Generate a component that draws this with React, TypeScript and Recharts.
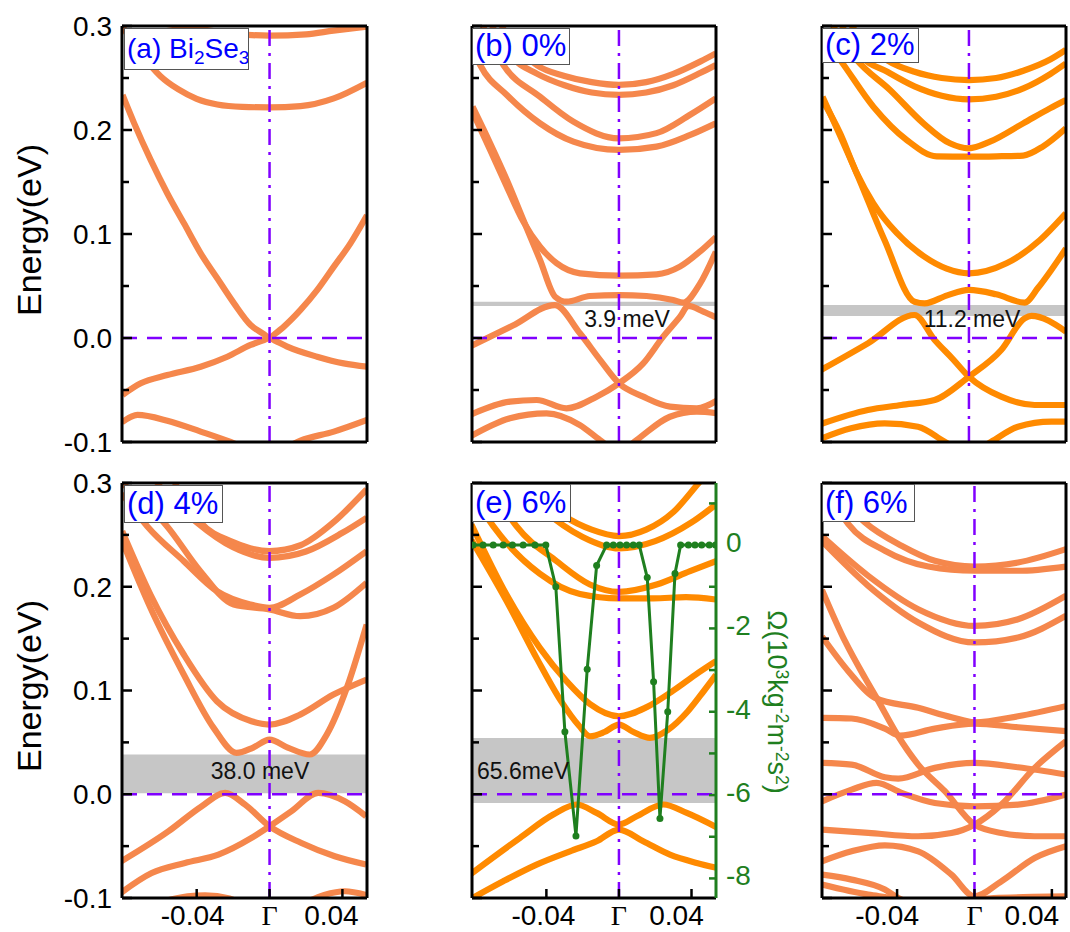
import React from "react";
import { LineChart, Line, XAxis, YAxis, ReferenceLine, ReferenceArea } from "recharts";

const FONT = "Arial, 'Liberation Sans', sans-serif";
const SERIF = "'Times New Roman', 'Liberation Serif', serif";
const PURPLE = "#8000ff";
const GREEN = "#1f7f1f";
const SALMON = "#f5874c";
const ORANGE = "#ff8a00";

const energyTicks = [-0.1, -0.05, 0, 0.05, 0.1, 0.15, 0.2, 0.25, 0.3];
const kTicks = [-0.04, 0, 0.04];
const omegaTicks = [-8, -7, -6, -5, -4, -3, -2, -1, 0, 1];
const kMain: [number, number] = [-0.081, 0.0535];
const kWide: [number, number] = [-0.0788, 0.0473];

// (a) Bi2Se3  [k, E]
const aBand1 = [[-0.081, 0.31], [-0.06, 0.303], [-0.045, 0.299], [-0.03, 0.295], [-0.012, 0.2915], [0, 0.2907], [0.02, 0.292], [0.035, 0.2955], [0.0535, 0.2994]];
const aBand2 = [[-0.081, 0.3], [-0.07, 0.272], [-0.06, 0.252], [-0.05, 0.239], [-0.04, 0.23], [-0.0287, 0.2245], [-0.015, 0.2222], [0, 0.2218], [0.017, 0.223], [0.0353, 0.2304], [0.0535, 0.2455]];
const aCone1 = [[-0.0807, 0.2337], [-0.0743, 0.2064], [-0.0652, 0.171], [-0.0561, 0.139], [-0.0469, 0.11], [-0.0378, 0.0814], [-0.0287, 0.0574], [-0.0195, 0.0333], [-0.0104, 0.0125], [-0.003, 0.0036], [0, 0], [0.003, 0.004], [0.0079, 0.011], [0.017, 0.027], [0.0261, 0.046], [0.0353, 0.0686], [0.0444, 0.091], [0.0535, 0.118]];
const aCone2 = [[-0.0807, -0.0548], [-0.0707, -0.0436], [-0.0561, -0.0356], [-0.0378, -0.0276], [-0.0232, -0.018], [-0.0104, -0.0067], [-0.003, -0.0019], [0, 0], [0.003, -0.0025], [0.0097, -0.0083], [0.0261, -0.018], [0.0407, -0.0244], [0.0535, -0.0276]];
const aBand5 = [[-0.081, -0.081], [-0.0725, -0.074], [-0.0561, -0.0795], [-0.0378, -0.09], [-0.0214, -0.1], [-0.0104, -0.1077], [0, -0.11], [0.0079, -0.106], [0.017, -0.0987], [0.0353, -0.09], [0.0535, -0.0788]];

// (b) 0%
const bTop1 = [[-0.065, 0.3], [-0.045, 0.262], [-0.03, 0.252], [-0.015, 0.246], [0, 0.2433], [0.015, 0.246], [0.03, 0.254], [0.045, 0.266], [0.0534, 0.2737]];
const bTop2 = [[-0.07, 0.3], [-0.06, 0.272], [-0.045, 0.254], [-0.03, 0.243], [-0.015, 0.236], [0, 0.2337], [0.015, 0.236], [0.03, 0.243], [0.045, 0.255], [0.0534, 0.2625]];
const bMid1 = [[-0.075, 0.3], [-0.0637, 0.2625], [-0.0435, 0.232], [-0.0251, 0.208], [0, 0.192], [0.0207, 0.197], [0.039, 0.2144], [0.0534, 0.2304]];
const bMid2 = [[-0.081, 0.28], [-0.0765, 0.2625], [-0.0618, 0.2337], [-0.0435, 0.2064], [-0.0251, 0.1888], [0, 0.1808], [0.0207, 0.184], [0.039, 0.195], [0.0534, 0.2064]];
const bC2 = [[-0.0807, 0.2176], [-0.071, 0.1808], [-0.0618, 0.1455], [-0.0527, 0.1119], [-0.0435, 0.0878], [-0.0343, 0.0718], [-0.0215, 0.0622], [0, 0.06], [0.0207, 0.0612], [0.0336, 0.0686], [0.0446, 0.083], [0.0534, 0.097]];
const bC1 = [[-0.0807, 0.2224], [-0.071, 0.1872], [-0.0618, 0.1519], [-0.0527, 0.1135], [-0.0435, 0.075], [-0.0352, 0.0397], [-0.0289, 0.0349], [-0.016, 0.0404], [0, 0.0413], [0.0152, 0.0404], [0.0299, 0.0365], [0.0355, 0.034], [0.0446, 0.052], [0.0534, 0.083]];
const bV1 = [[-0.0822, -0.0083], [-0.0587, 0.0117], [-0.0353, 0.0317], [-0.0215, 0.0045], [-0.01, -0.022], [0, -0.0436], [0.0134, -0.0564], [0.0281, -0.066], [0.0429, -0.0676], [0.0546, -0.0596]];
const bV2 = [[-0.0822, -0.074], [-0.0601, -0.0612], [-0.0454, -0.0596], [-0.0289, -0.0676], [-0.0123, -0.0564], [0, -0.0436], [0.0134, -0.0244], [0.0244, 0.0013], [0.0337, 0.0205], [0.0382, 0.0308], [0.0465, 0.0253], [0.0546, 0.0189]];
const bV3 = [[-0.0822, -0.0949], [-0.0601, -0.0772], [-0.0399, -0.0724], [-0.0215, -0.0837], [-0.0105, -0.098], [0, -0.11], [0.0098, -0.098], [0.0281, -0.0757], [0.0429, -0.0708], [0.0546, -0.0724]];

// (c) 2%
const cTop1 = [[-0.065, 0.3], [-0.045, 0.267], [-0.03, 0.256], [-0.015, 0.25], [0, 0.248], [0.015, 0.25], [0.03, 0.257], [0.045, 0.268], [0.0534, 0.277]];
const cTop2 = [[-0.07, 0.3], [-0.06, 0.272], [-0.045, 0.256], [-0.03, 0.242], [-0.015, 0.233], [0, 0.2295], [0.015, 0.232], [0.03, 0.24], [0.045, 0.254], [0.0534, 0.264]];
const cMid1 = [[-0.075, 0.3], [-0.0618, 0.2673], [-0.0435, 0.2385], [-0.0251, 0.2064], [-0.0105, 0.1872], [0, 0.1824], [0.0116, 0.1888], [0.0299, 0.2064], [0.0446, 0.2208], [0.0534, 0.2288]];
const cMid2 = [[-0.081, 0.29], [-0.071, 0.2673], [-0.0527, 0.2224], [-0.0343, 0.1904], [-0.0178, 0.1747], [0, 0.1744], [0.0152, 0.1747], [0.0299, 0.1754], [0.0409, 0.1843], [0.0534, 0.2016]];
const cC2 = [[-0.0807, 0.2288], [-0.071, 0.1968], [-0.0618, 0.1583], [-0.0527, 0.1295], [-0.0398, 0.101], [-0.0251, 0.0788], [-0.0123, 0.0667], [0, 0.0622], [0.0207, 0.0718], [0.039, 0.094], [0.0534, 0.1199]];
const cC1 = [[-0.0807, 0.232], [-0.0618, 0.158], [-0.0465, 0.094], [-0.03, 0.0349], [-0.0244, 0.0333], [-0.012, 0.041], [0, 0.0462], [0.015, 0.042], [0.0307, 0.034], [0.038, 0.048], [0.0454, 0.0654], [0.0535, 0.086]];
const cV1 = [[-0.0833, -0.0324], [-0.0557, -0.0051], [-0.03, 0.0221], [-0.0189, -0.0019], [-0.009, -0.02], [0, -0.0372], [0.0178, -0.0564], [0.0362, -0.0644], [0.0535, -0.0644]];
const cV2 = [[-0.0833, -0.0837], [-0.0557, -0.0692], [-0.0373, -0.0644], [-0.0189, -0.0596], [0, -0.0372], [0.0178, -0.0115], [0.0307, 0.0189], [0.0344, 0.0212], [0.0535, 0.0061]];
const cV3 = [[-0.0833, -0.098], [-0.065, -0.0868], [-0.0465, -0.082], [-0.0281, -0.0853], [-0.0134, -0.0997], [0, -0.112], [0.0123, -0.0997], [0.027, -0.0853], [0.0454, -0.0805], [0.0535, -0.0805]];

// (d) 4%
const dTop1 = [[-0.052, 0.3], [-0.038, 0.262], [-0.02, 0.243], [0, 0.2343], [0.017, 0.24], [0.035, 0.262], [0.0533, 0.2938]];
const dTop2 = [[-0.062, 0.3], [-0.04, 0.262], [-0.02, 0.238], [0, 0.2279], [0.02, 0.234], [0.04, 0.252], [0.0533, 0.2665]];
const dMid1 = [[-0.081, 0.29], [-0.0672, 0.2584], [-0.0471, 0.2247], [-0.0289, 0.1958], [-0.0106, 0.1829], [0, 0.1797], [0.0168, 0.1925], [0.0351, 0.2118], [0.0533, 0.2343]];
const dMid2 = [[-0.081, 0.3], [-0.0563, 0.2584], [-0.038, 0.215], [-0.0197, 0.1829], [0, 0.1781], [0.0168, 0.1716], [0.0351, 0.1797], [0.0533, 0.2038]];
const dC2 = [[-0.0809, 0.2536], [-0.0654, 0.1925], [-0.0471, 0.1347], [-0.0289, 0.0897], [-0.0099, 0.0704], [0, 0.0672], [0.0168, 0.0768], [0.0351, 0.0961], [0.0533, 0.1106]];
const dC1 = [[-0.0809, 0.244], [-0.0654, 0.1797], [-0.0471, 0.1154], [-0.0307, 0.064], [-0.0181, 0.0398], [-0.009, 0.045], [0, 0.0527], [0.01, 0.045], [0.0221, 0.0383], [0.0314, 0.0575], [0.0424, 0.1025], [0.0533, 0.1636]];
const dV1 = [[-0.0829, -0.0662], [-0.0555, -0.0357], [-0.0373, -0.0116], [-0.0244, 0.0013], [-0.0135, -0.0099], [0, -0.0309], [0.0175, -0.047], [0.0358, -0.0598], [0.053, -0.0678]];
const dV2 = [[-0.0829, -0.0967], [-0.0647, -0.0759], [-0.0464, -0.0662], [-0.0281, -0.0582], [-0.0099, -0.0421], [0, -0.0309], [0.012, -0.0164], [0.0267, 0.0013], [0.0413, -0.0068], [0.053, -0.0212]];
const dV3 = [[-0.06, -0.104], [-0.045, -0.0985], [-0.0354, -0.0974], [-0.022, -0.1005], [-0.01, -0.11], [0, -0.115], [0.015, -0.108], [0.03, -0.097], [0.0413, -0.0935], [0.053, -0.097]];

// (e) 6%
const eTop1 = [[-0.045, 0.29], [-0.03, 0.268], [-0.015, 0.255], [0, 0.2488], [0.015, 0.255], [0.03, 0.272], [0.044, 0.3], [0.054, 0.32]];
const eTop2 = [[-0.055, 0.3], [-0.04, 0.272], [-0.02, 0.248], [0, 0.2369], [0.02, 0.244], [0.04, 0.262], [0.0535, 0.2793]];
const eMid1 = [[-0.07, 0.295], [-0.0565, 0.2584], [-0.0344, 0.2247], [-0.016, 0.2022], [0, 0.1951], [0.0208, 0.2022], [0.0392, 0.215], [0.0535, 0.2247]];
const eMid2 = [[-0.081, 0.29], [-0.0693, 0.2584], [-0.0436, 0.2125], [-0.0215, 0.193], [0, 0.1888], [0.019, 0.1888], [0.037, 0.19], [0.0535, 0.1877]];
const eC2 = [[-0.0813, 0.26], [-0.062, 0.1925], [-0.0436, 0.1411], [-0.0289, 0.109], [-0.016, 0.087], [0, 0.0752], [0.0153, 0.084], [0.03, 0.1], [0.042, 0.115], [0.0535, 0.1283]];
const eC1 = [[-0.0813, 0.245], [-0.06, 0.18], [-0.045, 0.13], [-0.032, 0.09], [-0.022, 0.066], [-0.016, 0.0559], [-0.008, 0.06], [0, 0.0672], [0.008, 0.06], [0.0171, 0.0543], [0.027, 0.062], [0.038, 0.08], [0.047, 0.1], [0.0535, 0.115]];
const eV1 = [[-0.0822, -0.0775], [-0.0546, -0.0421], [-0.0362, -0.0196], [-0.0233, -0.0099], [-0.0123, -0.018], [0, -0.0292], [0.0098, -0.0212], [0.0244, -0.0099], [0.0374, -0.018], [0.0546, -0.0325]];
const eV2 = [[-0.0822, -0.1015], [-0.0638, -0.0839], [-0.0454, -0.0678], [-0.027, -0.055], [-0.0123, -0.0453], [0, -0.034], [0.0134, -0.0453], [0.0281, -0.0582], [0.0429, -0.0662], [0.0546, -0.0711]];
// (e) Ω curve  [k, Ω in 10^3 kg^-2 m^-2 s^2]
const eOmega = [[-0.0804, 0], [-0.0749, 0], [-0.0693, 0], [-0.0638, 0], [-0.0587, 0], [-0.0528, 0], [-0.0463, 0], [-0.0403, 0], [-0.0348, -1.0], [-0.0298, -4.48], [-0.0237, -6.98], [-0.0175, -2.98], [-0.0123, -0.49], [-0.0068, 0], [-0.0031, 0], [0.0006, 0], [0.0042, 0], [0.0079, 0], [0.0112, 0], [0.0156, -0.78], [0.0191, -3.28], [0.0226, -6.56], [0.0269, -4.0], [0.0309, -0.68], [0.034, 0], [0.0383, 0], [0.0419, 0], [0.0456, 0], [0.0498, 0], [0.0532, 0]];

// (f) 6%
const fTop1 = [[-0.075, 0.3], [-0.0566, 0.262], [-0.0377, 0.2395], [-0.0205, 0.225], [0, 0.2195], [0.0225, 0.2234], [0.0473, 0.2363]];
const fTop2 = [[-0.078, 0.3], [-0.0652, 0.2604], [-0.0463, 0.2347], [-0.0239, 0.2195], [0, 0.2154], [0.0225, 0.2154], [0.0473, 0.2195]];
const fMid1 = [[-0.079, 0.2491], [-0.0549, 0.2105], [-0.0291, 0.1784], [0, 0.1623], [0.0225, 0.1687], [0.0473, 0.1913]];
const fMid2 = [[-0.079, 0.2443], [-0.0549, 0.2009], [-0.0291, 0.1656], [0, 0.1463], [0.0225, 0.1511], [0.0473, 0.172]];
const fS1 = [[-0.0788, 0.197], [-0.0669, 0.1475], [-0.0566, 0.1122], [-0.0506, 0.0929], [-0.0394, 0.0559], [-0.0291, 0.0286], [-0.0153, 0.0029], [0, -0.0293], [0.0139, -0.0373], [0.0311, -0.0405], [0.0473, -0.0405]];
const fA = [[-0.0788, 0.152], [-0.0652, 0.1186], [-0.0514, 0.0929], [-0.0291, 0.0833], [-0.0119, 0.0743], [0, 0.0694], [0.0225, 0.0752], [0.0473, 0.0849]];
const fB = [[-0.0788, 0.0736], [-0.0635, 0.073], [-0.0463, 0.0633], [-0.0385, 0.0566], [-0.0205, 0.0633], [0, 0.0681], [0.0225, 0.0646], [0.0473, 0.0608]];
const fC = [[-0.0788, 0.0302], [-0.0635, 0.0286], [-0.0463, 0.0164], [-0.0394, 0.0151], [-0.0205, 0.0254], [0, 0.0302], [0.0225, 0.026], [0.0473, 0.019]];
const fD = [[-0.0788, -0.0068], [-0.0635, 0.0045], [-0.0506, 0.0109], [-0.0377, 0.0013], [-0.0205, -0.0084], [0, -0.0116], [0.0225, -0.01], [0.0473, -0.0003]];
const fF = [[-0.0788, -0.0341], [-0.0549, -0.0373], [-0.0291, -0.0405], [-0.0119, -0.0373], [0, -0.0293], [0.0139, -0.01], [0.0311, 0.0254], [0.0473, 0.0511]];
const fG = [[-0.0788, -0.0646], [-0.0635, -0.055], [-0.0463, -0.0492], [-0.0291, -0.055], [-0.0119, -0.0775], [0, -0.0984], [0.0139, -0.0839], [0.0311, -0.0614], [0.0473, -0.0501]];
const fH1 = [[-0.0788, -0.0775], [-0.0635, -0.0823], [-0.0463, -0.0919], [-0.0394, -0.1], [-0.03, -0.106]];
const fH2 = [[-0.0788, -0.0871], [-0.0549, -0.0968], [-0.0429, -0.1], [-0.03, -0.105]];
const fBot = [[-0.01, -0.104], [0.01, -0.1], [0.03, -0.099], [0.0473, -0.0985]];

// gaps [E bottom, E top]
const gapB = [0.0308, 0.0349];
const gapC = [0.0212, 0.0317];
const gapD = [0.001, 0.0383];
const gapE = [-0.0084, 0.0543];

const toPts = (arr: number[][]) => arr.map(([x, y]) => ({ x, y }));

function ETick(props: any) {
  const { x, y, payload, showLabel } = props;
  const v = payload.value;
  const major = Math.abs(v * 10 - Math.round(v * 10)) < 1e-6;
  return (
    <g>
      <line x1={x} x2={x + (major ? 10 : 7)} y1={y} y2={y} stroke="#000" strokeWidth={2.5} />
      {showLabel && major && (
        <text x={x - 10} y={y} dy="0.35em" textAnchor="end" fontFamily={FONT} fontSize={28} fill="#000">
          {v.toFixed(1)}
        </text>
      )}
    </g>
  );
}

function KTick(props: any) {
  const { x, y, payload, shift } = props;
  const v = payload.value;
  const dx = v < 0 ? shift[0] : v > 0 ? shift[1] : 0;
  return (
    <g>
      <line x1={x} x2={x} y1={y} y2={y - 9} stroke="#000" strokeWidth={2.5} />
      <text x={x + dx} y={y + 17} dy="0.35em" textAnchor="middle" fontFamily={v === 0 ? SERIF : FONT} fontSize={28} fill="#000">
        {v === 0 ? "Γ" : v.toFixed(2)}
      </text>
    </g>
  );
}

function WTick(props: any) {
  const { x, y, payload } = props;
  const v = payload.value;
  const major = v % 2 === 0;
  return (
    <g>
      <line x1={x} x2={x - 7} y1={y} y2={y} stroke={GREEN} strokeWidth={2.5} />
      {major && (
        <text x={x + 10} y={y} dy="0.25em" textAnchor="start" fontFamily={FONT} fontSize={28} fill={GREEN}>
          {String(v)}
        </text>
      )}
    </g>
  );
}

type PanelProps = {
  left: number;
  top: number;
  w: number;
  h: number;
  bands: number[][][];
  color: string;
  kDomain: [number, number];
  yLabels?: boolean;
  xLabels?: boolean;
  gap?: number[];
  omega?: number[][];
  shift?: number[];
};

function Panel(p: PanelProps) {
  const yw = p.yLabels ? p.left : 10;
  const rightW = p.omega ? 80 : 4;
  const xh = p.xLabels ? 34 : 0;
  const mt = 16;
  const mb = p.xLabels ? 0 : 20;
  const width = yw + p.w + rightW;
  const height = mt + p.h + xh + mb;
  return (
    <div style={{ position: "absolute", left: p.left - yw, top: p.top - mt }}>
      <LineChart width={width} height={height} margin={{ top: mt, right: p.omega ? 0 : rightW, bottom: mb, left: 0 }}>
        <XAxis
          type="number"
          dataKey="x"
          domain={p.kDomain}
          allowDataOverflow
          ticks={kTicks}
          interval={0}
          hide={!p.xLabels}
          height={xh}
          tickSize={0}
          tickMargin={0}
          axisLine={false}
          tickLine={false}
          tick={(tp: any) => <KTick {...tp} shift={p.shift || [0, 0]} />}
        />
        <YAxis
          type="number"
          domain={[-0.1, 0.3]}
          allowDataOverflow
          ticks={energyTicks}
          interval={0}
          width={yw}
          tickSize={0}
          tickMargin={0}
          axisLine={false}
          tickLine={false}
          tick={(tp: any) => <ETick {...tp} showLabel={!!p.yLabels} />}
        />
        {p.omega && (
          <YAxis
            yAxisId="w"
            orientation="right"
            type="number"
            domain={[-8.47, 1.49]}
            allowDataOverflow
            ticks={omegaTicks}
            interval={0}
            width={80}
            tickSize={0}
            tickMargin={0}
            axisLine={{ stroke: GREEN, strokeWidth: 3 }}
            tickLine={false}
            tick={(tp: any) => <WTick {...tp} />}
          />
        )}
        {p.gap && <ReferenceArea y1={p.gap[0]} y2={p.gap[1]} fill="#c6c6c6" fillOpacity={1} stroke="none" />}
        {p.bands.map((b, i) => (
          <Line
            key={i}
            data={toPts(b)}
            dataKey="y"
            type="monotone"
            stroke={p.color}
            strokeWidth={6.2}
            strokeLinejoin="round"
            dot={false}
            isAnimationActive={false}
          />
        ))}
        <ReferenceLine y={0} stroke={PURPLE} strokeWidth={2.5} strokeDasharray="15 10" />
        <ReferenceLine x={0} stroke={PURPLE} strokeWidth={2.5} strokeDasharray="16 7 3 7" />
        {p.omega && (
          <Line
            yAxisId="w"
            data={toPts(p.omega)}
            dataKey="y"
            type="linear"
            stroke={GREEN}
            strokeWidth={3}
            dot={{ r: 3.5, fill: GREEN, stroke: GREEN, strokeWidth: 0 }}
            isAnimationActive={false}
          />
        )}
        <ReferenceLine x={p.kDomain[0]} stroke="#000" strokeWidth={3} />
        {!p.omega && <ReferenceLine x={p.kDomain[1]} stroke="#000" strokeWidth={3} />}
        <ReferenceLine y={0.3} stroke="#000" strokeWidth={3} />
        <ReferenceLine y={-0.1} stroke="#000" strokeWidth={3} />
      </LineChart>
    </div>
  );
}

function Tag(props: { left: number; top: number; w: number; h: number; size: number; children: React.ReactNode }) {
  return (
    <div
      style={{
        position: "absolute",
        left: props.left,
        top: props.top,
        width: props.w,
        height: props.h,
        boxSizing: "border-box",
        border: "1.5px solid #555",
        background: "#fff",
        color: "#0000ff",
        fontFamily: FONT,
        fontSize: props.size,
        lineHeight: `${props.h - 3}px`,
        paddingLeft: 2,
        whiteSpace: "nowrap",
        overflow: "hidden",
      }}
    >
      {props.children}
    </div>
  );
}

function Note(props: { x: number; y: number; children: React.ReactNode; anchor?: string }) {
  return (
    <div
      style={{
        position: "absolute",
        left: props.x,
        top: props.y,
        transform: props.anchor === "start" ? "translate(0,-50%)" : "translate(-50%,-50%)",
        fontFamily: FONT,
        fontSize: 23,
        color: "#111",
        whiteSpace: "nowrap",
        lineHeight: 1.2,
      }}
    >
      {props.children}
    </div>
  );
}

const subStyle: React.CSSProperties = { fontSize: "0.68em", verticalAlign: "-0.3em", lineHeight: 0 };
const supStyle: React.CSSProperties = { fontSize: "0.65em", verticalAlign: "0.5em", lineHeight: 0 };

export default function App() {
  return (
    <div style={{ position: "absolute", left: 0, top: 0, width: 1070, height: 932, background: "#fff", overflow: "hidden" }}>
      <Panel left={122} top={26} w={245} h={416} bands={[aBand1, aBand2, aCone1, aCone2, aBand5]} color={SALMON} kDomain={kMain} yLabels />
      <Panel left={472} top={26} w={244} h={416} bands={[bTop1, bTop2, bMid1, bMid2, bC2, bC1, bV1, bV2, bV3]} color={SALMON} kDomain={kMain} gap={gapB} />
      <Panel left={822} top={26} w={244} h={416} bands={[cTop1, cTop2, cMid1, cMid2, cC2, cC1, cV1, cV2, cV3]} color={ORANGE} kDomain={kMain} gap={gapC} />
      <Panel left={122} top={483} w={245} h={415} bands={[dTop1, dTop2, dMid1, dMid2, dC2, dC1, dV1, dV2, dV3]} color={SALMON} kDomain={kMain} gap={gapD} yLabels xLabels shift={[-4, -11]} />
      <Panel left={472} top={483} w={244} h={415} bands={[eTop1, eTop2, eMid1, eMid2, eC2, eC1, eV1, eV2]} color={ORANGE} kDomain={kMain} gap={gapE} omega={eOmega} xLabels shift={[-3, -15]} />
      <Panel left={822} top={483} w={244} h={415} bands={[fTop1, fTop2, fMid1, fMid2, fS1, fA, fB, fC, fD, fF, fG, fH1, fH2, fBot]} color={SALMON} kDomain={kWide} xLabels shift={[-10, -20]} />

      <Tag left={124} top={28} w={125} h={42} size={28}>
        (a) Bi<span style={subStyle}>2</span>Se<span style={subStyle}>3</span>
      </Tag>
      <Tag left={472} top={28} w={98} h={37} size={31}>(b) 0%</Tag>
      <Tag left={822} top={28} w={97} h={35} size={31}>(c) 2%</Tag>
      <Tag left={124} top={485} w={99} h={38} size={31}>(d) 4%</Tag>
      <Tag left={472} top={484} w={99} h={38} size={31}>(e) 6%</Tag>
      <Tag left={822} top={484} w={93} h={38} size={31}>(f) 6%</Tag>

      <Note x={627} y={320}>3.9 meV</Note>
      <Note x={972} y={320}>11.2 meV</Note>
      <Note x={260} y={772}>38.0 meV</Note>
      <Note x={477} y={772} anchor="start">65.6meV</Note>

      <div style={{ position: "absolute", left: 29, top: 230, transform: "translate(-50%,-50%) rotate(-90deg)", fontFamily: FONT, fontSize: 34, whiteSpace: "nowrap", color: "#000" }}>
        Energy(eV)
      </div>
      <div style={{ position: "absolute", left: 29, top: 686, transform: "translate(-50%,-50%) rotate(-90deg)", fontFamily: FONT, fontSize: 34, whiteSpace: "nowrap", color: "#000" }}>
        Energy(eV)
      </div>
      <div style={{ position: "absolute", left: 776, top: 702, transform: "translate(-50%,-50%) rotate(90deg)", fontFamily: FONT, fontSize: 27, whiteSpace: "nowrap", color: GREEN }}>
        Ω(10<span style={supStyle}>3</span>kg<span style={supStyle}>-2</span>m<span style={supStyle}>-2</span>s<span style={supStyle}>2</span>)
      </div>
    </div>
  );
}
